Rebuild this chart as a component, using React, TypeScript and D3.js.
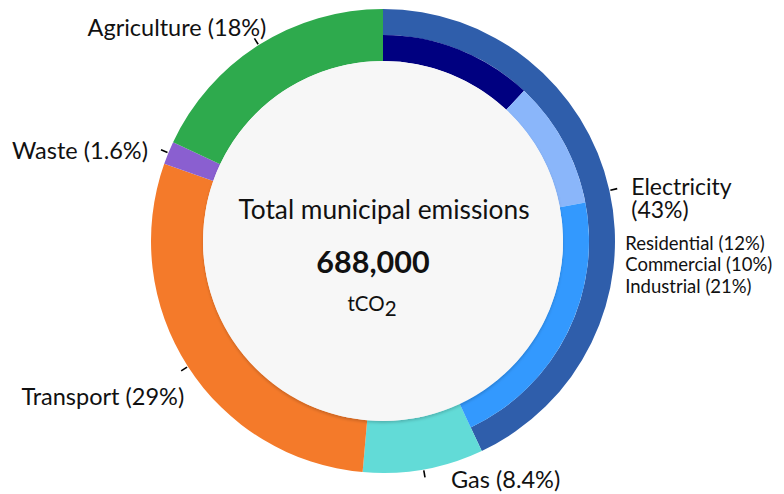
import * as d3 from 'd3'

// main ring
const categories = ['Electricity', 'Gas', 'Transport', 'Waste', 'Agriculture']
const shares = [43, 8.4, 29, 1.6, 18]
const shareLabels = ['43%', '8.4%', '29%', '1.6%', '18%']
const colors = ['#2f5eab', '#62dbd7', '#f47a2a', '#8a5fd0', '#2eaa4d']

// electricity breakdown (inner sub-ring)
const subCategories = ['Residential', 'Commercial', 'Industrial']
const subShares = [12, 10, 21]
const subColors = ['#000080', '#8ab6fa', '#3399fe']

const totalLabel = 'Total municipal emissions'
const totalValue = 688000

const W = 784
const H = 494
const cx = 383
const cy = 241
const outerR = 232
const splitR = 206
const innerR = 180

const font = 'Lato, "Open Sans", sans-serif'

// label offsets from the end of each leader tick
const labelLayout: Record<string, { dx: number; dy: number; anchor: string }> = {
  Electricity: { dx: 14, dy: 6, anchor: 'start' },
  Gas: { dx: 26, dy: 11, anchor: 'start' },
  Transport: { dx: 3, dy: 34, anchor: 'end' },
  Waste: { dx: -13, dy: 9, anchor: 'end' },
  Agriculture: { dx: 12, dy: -2, anchor: 'end' },
}

export default function App() {
  const data = categories.map((c, i) => ({ name: c, value: shares[i] }))
  const pie = d3.pie<{ name: string; value: number }>().value(d => d.value).sort(null)
  const slices = pie(data)

  const arcFull = d3.arc<d3.PieArcDatum<any>>().innerRadius(innerR).outerRadius(outerR)
  const arcOuter = d3.arc<d3.PieArcDatum<any>>().innerRadius(splitR).outerRadius(outerR)
  const arcInner = d3.arc<d3.PieArcDatum<any>>().innerRadius(innerR).outerRadius(splitR)

  const elec = slices[0]
  const subPie = d3.pie<number>().sort(null).startAngle(elec.startAngle).endAngle(elec.endAngle)
  const subSlices = subPie(subShares)

  const polar = (a: number, r: number) => [cx + r * Math.sin(a), cy - r * Math.cos(a)]

  const fmt = d3.format(',')

  return (
    <div style={{ position: 'absolute', left: 0, top: 0 }}>
      <svg width={W} height={H} style={{ display: 'block', background: '#fff' }}>
        <defs>
          <filter id="shadow" x="-10%" y="-10%" width="120%" height="120%">
            <feDropShadow dx="0" dy="2" stdDeviation="1.5" floodColor="#000" floodOpacity="0.18" />
          </filter>
        </defs>
        <g transform={`translate(${cx},${cy})`}>
          {slices.map((s, i) => (
            <path
              key={categories[i]}
              d={(i === 0 ? arcOuter(s) : arcFull(s)) || ''}
              fill={colors[i]}
            />
          ))}
          {subSlices.map((s, i) => (
            <path key={subCategories[i]} d={arcInner(s) || ''} fill={subColors[i]} />
          ))}
          <circle r={innerR} fill="#f7f7f7" filter="url(#shadow)" />
        </g>

        {slices.map((s, i) => {
          const mid = (s.startAngle + s.endAngle) / 2
          const [x1, y1] = polar(mid, outerR + 1)
          const [x2, y2] = polar(mid, outerR + 8)
          const L = labelLayout[categories[i]]
          const tx = x2 + L.dx
          const ty = y2 + L.dy
          return (
            <g key={categories[i]}>
              <line x1={x1} y1={y1} x2={x2} y2={y2} stroke="#000" strokeWidth={1.6} />
              {categories[i] === 'Electricity' ? (
                <g>
                  <text x={tx} y={ty} fontFamily={font} fontSize={23} fill="#111" textAnchor={L.anchor}>
                    {categories[i]}
                  </text>
                  <text x={tx} y={ty + 23} fontFamily={font} fontSize={23} fill="#111" textAnchor={L.anchor}>
                    ({shareLabels[i]})
                  </text>
                  {subCategories.map((sc, j) => (
                    <text key={sc} x={x2 + 8} y={y2 + 61 + j * 21.7} fontFamily={font} fontSize={18.5} fill="#111">
                      {sc} ({subShares[j]}%)
                    </text>
                  ))}
                </g>
              ) : (
                <text x={tx} y={ty} fontFamily={font} fontSize={23.5} fill="#111" textAnchor={L.anchor}>
                  {categories[i]} ({shareLabels[i]})
                </text>
              )}
            </g>
          )
        })}

        <text x={cx + 1} y={219} fontFamily={font} fontSize={26.3} textAnchor="middle" fill="#111">
          {totalLabel}
        </text>
        <text x={cx - 10} y={273} fontFamily={font} fontSize={30.5} fontWeight={700} textAnchor="middle" fill="#111">
          {fmt(totalValue)}
        </text>
        <text x={cx - 11} y={311} fontFamily={font} fontSize={20.5} textAnchor="middle" fill="#111">
          tCO<tspan dy={4.5}>2</tspan>
        </text>
      </svg>
    </div>
  )
}
